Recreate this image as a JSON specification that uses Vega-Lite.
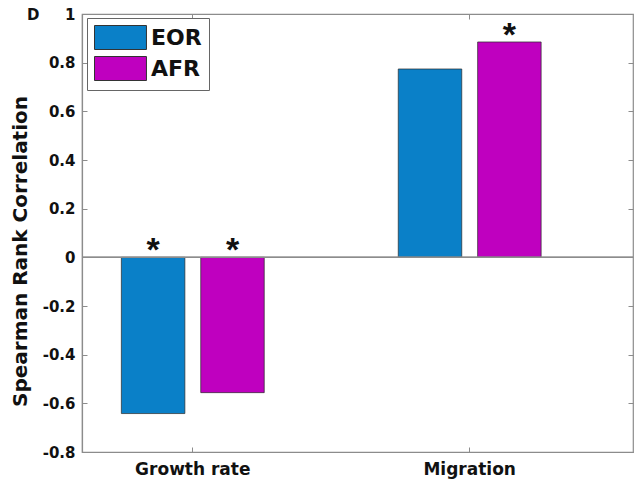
{
  "$schema": "https://vega.github.io/schema/vega-lite/v6.json",
  "width": 551,
  "height": 438,
  "autosize": {"type": "none"},
  "padding": {"left": 82, "top": 14, "right": 2, "bottom": 38},
  "background": "white",
  "title": {"text": "D", "anchor": "start", "frame": "group", "dx": -55, "offset": -16, "font": "DejaVu Sans", "fontSize": 15, "fontWeight": "bold", "color": "#111111"},
  "data": {"values": [
    {"variable": "Growth rate", "group": "EOR", "rho": -0.642, "sig": "*"},
    {"variable": "Growth rate", "group": "AFR", "rho": -0.556, "sig": "*"},
    {"variable": "Migration", "group": "EOR", "rho": 0.774, "sig": ""},
    {"variable": "Migration", "group": "AFR", "rho": 0.885, "sig": "*"}
  ]},
  "config": {"view": {"stroke": "#8c8c8c", "strokeWidth": 1.2}},
  "layer": [
    {
      "mark": {"type": "bar", "stroke": "#2b2b2b", "strokeWidth": 1, "strokeOpacity": 0.7},
      "encoding": {
        "x": {"field": "variable", "type": "nominal", "sort": ["Growth rate", "Migration"],
          "scale": {"paddingInner": 0.484, "paddingOuter": 0.237, "align": 0.3},
          "axis": {"title": null, "labelAngle": 0, "labelFont": "DejaVu Sans", "labelFontSize": 17, "labelFontWeight": "bold", "labelColor": "#111111", "tickSize": -5, "labelPadding": 14, "domainColor": "#8c8c8c", "tickColor": "#8c8c8c", "domainWidth": 1.2}},
        "xOffset": {"field": "group", "type": "nominal", "sort": ["EOR", "AFR"], "scale": {"paddingInner": 0.2, "paddingOuter": 0}},
        "y": {"field": "rho", "type": "quantitative", "scale": {"domain": [-0.8, 1], "nice": false, "zero": false},
          "axis": {"title": "Spearman Rank Correlation", "values": [-0.8, -0.6, -0.4, -0.2, 0, 0.2, 0.4, 0.6, 0.8, 1],
            "labelExpr": "datum.value == 0 ? '0' : replace(format(datum.value, '.1~f'), '\u2212', '-')",
            "grid": false, "tickSize": -5, "labelPadding": 12, "labelFont": "DejaVu Sans", "labelFontSize": 15, "labelFontWeight": "bold", "labelColor": "#111111",
            "titleFont": "DejaVu Sans", "titleFontSize": 20, "titleFontWeight": "bold", "titleColor": "#111111", "titleX": -62, "titleY": 237, "titleBaseline": "middle",
            "domainColor": "#8c8c8c", "tickColor": "#8c8c8c", "domainWidth": 1.2}},
        "color": {"field": "group", "type": "nominal", "sort": ["EOR", "AFR"],
          "scale": {"domain": ["EOR", "AFR"], "range": ["#0a80c8", "#bf00bf"]},
          "legend": {"orient": "none", "legendX": 5, "legendY": 4, "title": null, "symbolType": "M-1,-1H3.33V1H-1Z", "symbolSize": 576, "symbolStrokeColor": "#333333", "symbolStrokeWidth": 1, "symbolOpacity": 1, "labelFont": "DejaVu Sans", "labelFontSize": 22, "labelFontWeight": "bold", "labelColor": "#111111", "labelOffset": 32, "strokeColor": "#666666", "fillColor": "white", "padding": 7, "rowPadding": 2}}
      }
    },
    {
      "mark": {"type": "rule", "color": "#8c8c8c", "strokeWidth": 1.2},
      "encoding": {"y": {"datum": 0, "type": "quantitative", "axis": null}}
    },
    {
      "transform": [{"calculate": "max(datum.rho, 0)", "as": "ypos"}],
      "mark": {"type": "text", "font": "Liberation Sans", "fontSize": 34, "fontWeight": "bold", "baseline": "alphabetic", "dy": 4, "color": "#111111"},
      "encoding": {
        "x": {"field": "variable", "type": "nominal", "sort": ["Growth rate", "Migration"], "axis": null},
        "xOffset": {"field": "group", "type": "nominal", "sort": ["EOR", "AFR"]},
        "y": {"field": "ypos", "type": "quantitative", "axis": null},
        "text": {"field": "sig"}
      }
    },
    {
      "mark": {"type": "point", "opacity": 0},
      "encoding": {
        "x": {"field": "variable", "type": "nominal", "sort": ["Growth rate", "Migration"],
          "axis": {"orient": "top", "title": null, "labels": false, "domain": false, "tickSize": -5, "tickColor": "#8c8c8c"}},
        "y": {"field": "rho", "type": "quantitative",
          "axis": {"orient": "right", "title": null, "labels": false, "domain": false, "grid": false, "tickSize": -5, "tickColor": "#8c8c8c", "values": [-0.8, -0.6, -0.4, -0.2, 0, 0.2, 0.4, 0.6, 0.8, 1]}}
      }
    }
  ],
  "resolve": {"axis": {"x": "independent", "y": "independent"}}
}
